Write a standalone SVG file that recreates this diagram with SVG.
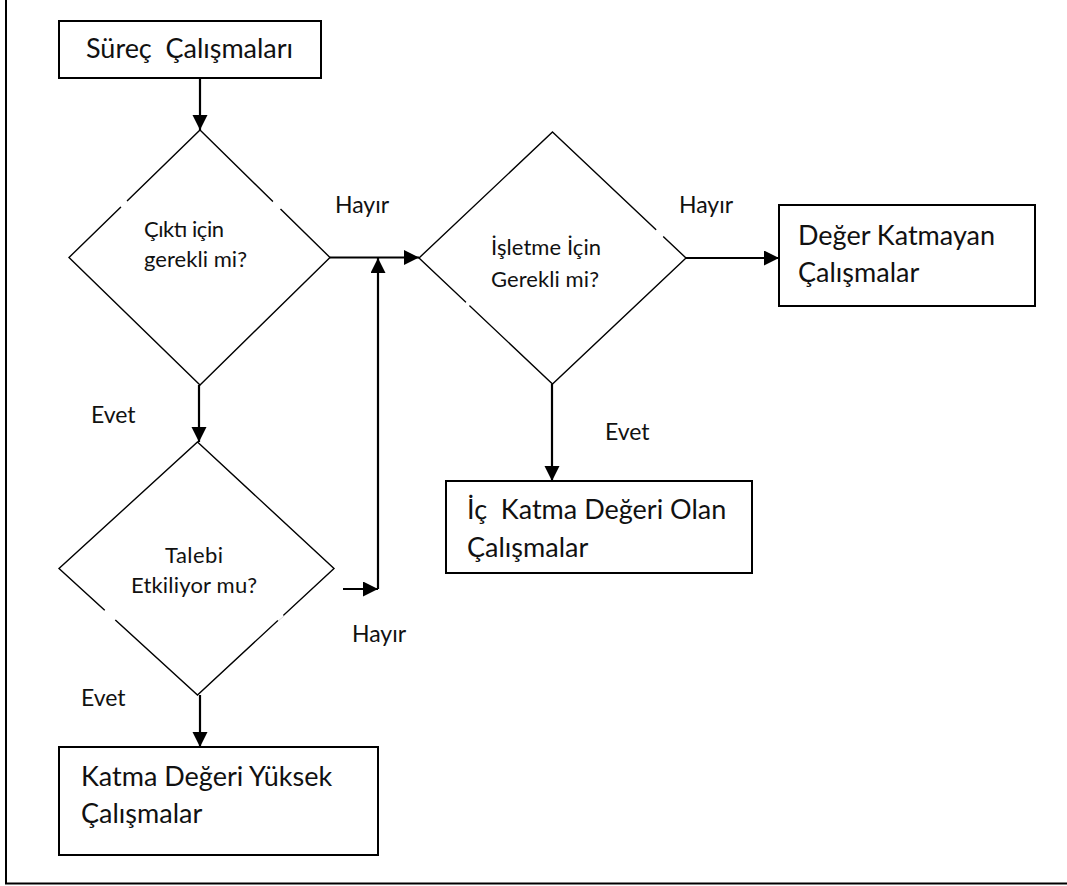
<svg xmlns="http://www.w3.org/2000/svg" width="1067" height="886" viewBox="0 0 1067 886">
  <style>
    .box { fill: #ffffff; stroke: #000000; stroke-width: 2; }
    .dia { fill: #ffffff; stroke: #000000; stroke-width: 1.4; }
    .gap { stroke: #ffffff; stroke-width: 4; }
    .conn { stroke: #000000; stroke-width: 2.2; fill: none; }
    .frame { stroke: #000000; stroke-width: 2; fill: none; }
    text { font-family: Lato, "Open Sans", "DejaVu Sans", sans-serif; fill: #111111; white-space: pre; }
    .t-box { font-size: 27px; }
    .t-dia { font-size: 22px; }
    .t-lbl { font-size: 23px; }
  </style>
  <defs>
    <marker id="arrow" markerUnits="userSpaceOnUse" markerWidth="16" markerHeight="16" refX="15" refY="7.5" orient="auto">
      <path d="M0,0 L15,7.5 L0,15 Z" fill="#000000"/>
    </marker>
  </defs>

  <!-- page frame (top and right edges fall outside the view) -->
  <path class="frame" d="M6,0 V883.5 H1067"/>

  <g id="surec">
    <rect class="box" x="59" y="21" width="262" height="57"/>
    <text class="t-box" x="86" y="58" textLength="207">Süreç  Çalışmaları</text>
  </g>

  <g id="cikti">
    <polygon class="dia" points="200,130 330,257.5 200,385 69,257.5"/>
    <line class="gap" x1="127.5" y1="201.5" x2="121.5" y2="207.5"/>
    <line class="gap" x1="273" y1="201.5" x2="280.5" y2="209"/>
    <text class="t-dia" x="144" y="237" textLength="80">Çıktı için</text>
    <text class="t-dia" x="144" y="267" textLength="103">gerekli mi?</text>
  </g>

  <g id="isletme">
    <polygon class="dia" points="552.5,132 686,258 552.5,384 419,258"/>
    <line class="gap" x1="656" y1="230" x2="663" y2="236.8"/>
    <line class="gap" x1="466" y1="302.3" x2="469.5" y2="305.5"/>
    <text class="t-dia" x="491" y="255" textLength="110">İşletme İçin</text>
    <text class="t-dia" x="491" y="287" textLength="108">Gerekli mi?</text>
  </g>

  <g id="talebi">
    <polygon class="dia" points="197.5,442 334,568.5 197.5,695 59,568.5"/>
    <line class="gap" x1="105" y1="610" x2="115.5" y2="619.8"/>
    <line class="gap" x1="282.5" y1="614.5" x2="277" y2="619.6"/>
    <text class="t-dia" x="165" y="563" textLength="58">Talebi</text>
    <text class="t-dia" x="131" y="593" textLength="126">Etkiliyor mu?</text>
  </g>

  <g id="deger-katmayan">
    <rect class="box" x="779" y="205" width="256" height="101"/>
    <text class="t-box" x="798" y="245">Değer Katmayan</text>
    <text class="t-box" x="798" y="282">Çalışmalar</text>
  </g>

  <g id="ic-katma">
    <rect class="box" x="446" y="481" width="306" height="92"/>
    <text class="t-box" x="467" y="519">İç  Katma Değeri Olan</text>
    <text class="t-box" x="467" y="557">Çalışmalar</text>
  </g>

  <g id="katma-yuksek">
    <rect class="box" x="59" y="747" width="319" height="108"/>
    <text class="t-box" x="81" y="786">Katma Değeri Yüksek</text>
    <text class="t-box" x="81" y="823">Çalışmalar</text>
  </g>

  <g id="connectors">
    <line class="conn" x1="200" y1="78" x2="200" y2="130" marker-end="url(#arrow)"/>
    <line class="conn" x1="199" y1="385" x2="199" y2="442" marker-end="url(#arrow)"/>
    <line class="conn" x1="330" y1="257.5" x2="419" y2="257.5" marker-end="url(#arrow)"/>
    <line class="conn" x1="343" y1="589" x2="378" y2="589" marker-end="url(#arrow)"/>
    <line class="conn" x1="378" y1="589" x2="378" y2="258" marker-end="url(#arrow)"/>
    <line class="conn" x1="686" y1="258" x2="779" y2="258" marker-end="url(#arrow)"/>
    <line class="conn" x1="552" y1="384" x2="552" y2="481" marker-end="url(#arrow)"/>
    <line class="conn" x1="200" y1="695" x2="200" y2="747" marker-end="url(#arrow)"/>
  </g>

  <g id="labels">
    <text class="t-lbl" x="335" y="213">Hayır</text>
    <text class="t-lbl" x="679" y="213">Hayır</text>
    <text class="t-lbl" x="91" y="423">Evet</text>
    <text class="t-lbl" x="605" y="440">Evet</text>
    <text class="t-lbl" x="352" y="642">Hayır</text>
    <text class="t-lbl" x="81" y="706">Evet</text>
  </g>
</svg>
